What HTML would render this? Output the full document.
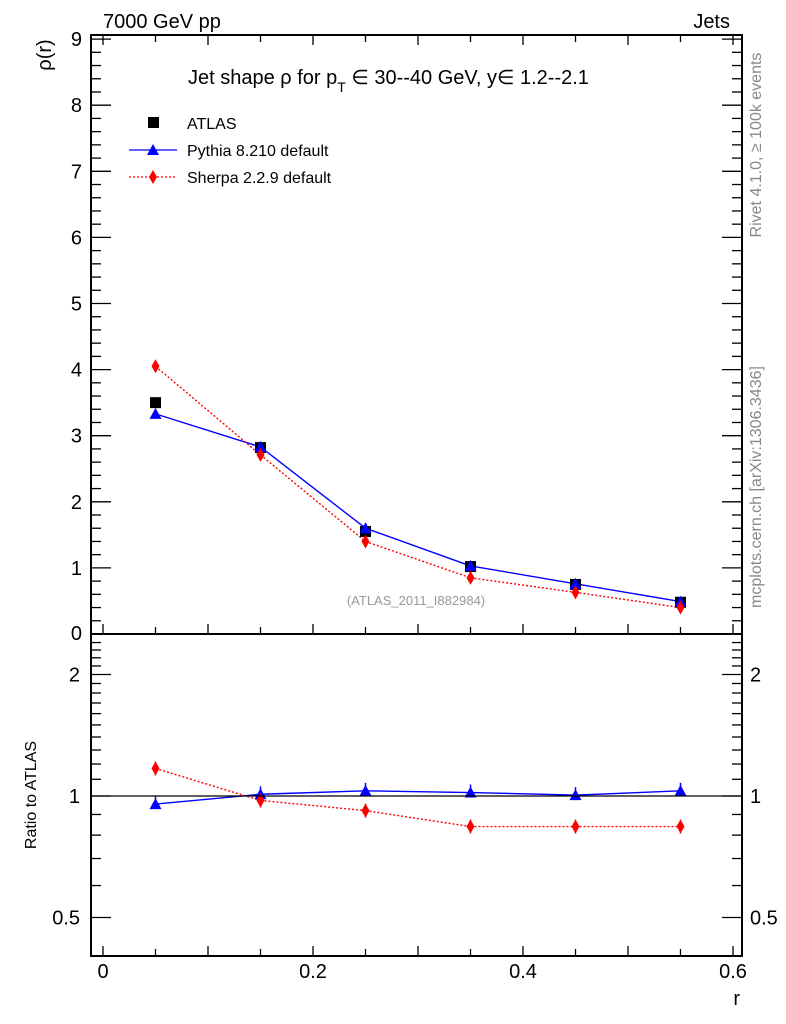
<!DOCTYPE html>
<html><head><meta charset="utf-8"><style>
html,body{margin:0;padding:0;background:#fff;}
svg{display:block;font-family:"Liberation Sans",sans-serif;}
</style></head><body>
<svg id="s" width="786" height="1024" viewBox="0 0 786 1024" xmlns="http://www.w3.org/2000/svg">
<rect width="786" height="1024" fill="#fff"/>
<text x="103" y="28" font-size="20">7000 GeV pp</text>
<text x="730" y="28" font-size="20" text-anchor="end">Jets</text>
<text x="38" y="68" font-size="20" text-anchor="middle" transform="rotate(-90 38 55)" >ρ(r)</text>
<text x="188" y="84" font-size="20">Jet shape ρ for p<tspan font-size="14" dy="8">T</tspan><tspan dy="-8"> ∈ 30--40 GeV, y∈ 1.2--2.1</tspan></text>
<rect x="148" y="117" width="11" height="11" fill="#000"/>
<text x="187" y="129" font-size="16">ATLAS</text>
<line x1="129" y1="150" x2="177" y2="150" stroke="#00f" stroke-width="1.3"/>
<polygon points="153,144 147,155 159,155" fill="#00f"/>
<text x="187" y="156" font-size="16">Pythia 8.210 default</text>
<line x1="129" y1="177" x2="177" y2="177" stroke="#f00" stroke-width="1.3" stroke-dasharray="2,2"/>
<polygon points="153,170 157,177 153,184 149,177" fill="#f00"/>
<text x="187" y="183" font-size="16">Sherpa 2.2.9 default</text>
<text x="416" y="605" font-size="13" fill="#999" text-anchor="middle">(ATLAS_2011_I882984)</text>
<text x="761" y="145" font-size="16" fill="#888" text-anchor="middle" transform="rotate(-90 761 145)">Rivet 4.1.0, ≥ 100k events</text>
<text x="761" y="487" font-size="16" fill="#888" text-anchor="middle" transform="rotate(-90 761 487)">mcplots.cern.ch [arXiv:1306.3436]</text>
<text x="36" y="795" font-size="16" text-anchor="middle" transform="rotate(-90 36 795)">Ratio to ATLAS</text>
<g id="g"></g>
<rect x="91" y="35" width="651" height="921" fill="none" stroke="#000" stroke-width="2"/>
<line x1="91" y1="634" x2="742" y2="634" stroke="#000" stroke-width="2"/>
<line x1="91" y1="796" x2="742" y2="796" stroke="#000" stroke-width="1.2"/>
<text x="740" y="1005" font-size="20" text-anchor="end">r</text>
</svg>
<script>
var g=document.getElementById('g'),h='';
function X(v){return 103+v*1050;}
function Y(v){return 634-v*66.1;}
function R(v){return 796-121.5*Math.log2(v);}
function L(a,b,c,d,s,w,da){h+='<line x1="'+a+'" y1="'+b+'" x2="'+c+'" y2="'+d+'" stroke="'+(s||'#000')+'" stroke-width="'+(w||1.3)+'"'+(da?' stroke-dasharray="'+da+'"':'')+'/>';}
function T(x,y,t,a,fs){h+='<text x="'+x+'" y="'+y+'" font-size="'+(fs||20)+'" text-anchor="'+(a||'middle')+'">'+t+'</text>';}
for(var i=0;i<=12;i++){var v=i*0.05,x=X(v),big=(i%2==0),l=big?10:7;
 L(x,634,x,634-l);L(x,956,x,956-l);L(x,35,x,35+l);}
for(var i=0;i<=45;i++){var v=i*0.2,y=Y(v);if(y<35)break;var big=(i%5==0),l=big?20:10;
 L(91,y,91+l,y);L(742,y,742-l,y);}
for(var k=1;k<=9;k++)T(82,Y(k)+7,k,'end');
T(82,640,'0','end');
for(var i=4;i<=25;i++){var v=i/10,y=R(v);if(y<636||y>955)continue;var big=(i==5||i==10||i==20),l=big?20:10;
 L(91,y,91+l,y);L(742,y,742-l,y);}
[[2,'2'],[1,'1'],[0.5,'0.5']].forEach(function(p){T(80,R(p[0])+7,p[1],'end');T(750,R(p[0])+7,p[1],'start');});
['0','0.2','0.4','0.6'].forEach(function(t,i){T(X(i*0.2),978,t);});
var xs=[0.05,0.15,0.25,0.35,0.45,0.55];
var at=[3.5,2.82,1.55,1.02,0.75,0.48],py=[3.33,2.83,1.6,1.03,0.76,0.49],sh=[4.05,2.71,1.4,0.85,0.63,0.40];
var pr=[0.955,1.01,1.03,1.02,1.005,1.03],sr=[1.17,0.975,0.92,0.84,0.84,0.84];
function series(vals,f,col,da){for(var i=0;i<5;i++)L(X(xs[i]),f(vals[i]),X(xs[i+1]),f(vals[i+1]),col,1.4,da);}
function tri(x,y){h+='<polygon points="'+x+','+(y-6)+' '+(x-6)+','+(y+5)+' '+(x+6)+','+(y+5)+'" fill="#00f"/>';}
function dia(x,y){h+='<polygon points="'+x+','+(y-7)+' '+(x+4)+','+y+' '+x+','+(y+7)+' '+(x-4)+','+y+'" fill="#f00"/>';}
series(py,Y,'#00f');series(sh,Y,'#f00',"2,2");
for(var i=0;i<6;i++){var x=X(xs[i]);h+='<rect x="'+(x-5.5)+'" y="'+(Y(at[i])-5.5)+'" width="11" height="11" fill="#000"/>';}
for(var i=0;i<6;i++){tri(X(xs[i]),Y(py[i]));dia(X(xs[i]),Y(sh[i]));}
series(pr,R,'#00f');series(sr,R,'#f00',"2,2");
for(var i=0;i<6;i++){var x=X(xs[i]);L(x,R(pr[i])-8,x,R(pr[i])+4,'#00f',1.5);L(x,R(sr[i])-7,x,R(sr[i])+7,'#f00',1.5);tri(x,R(pr[i]));dia(x,R(sr[i]));}
g.innerHTML=h;
</script>
</body></html>
